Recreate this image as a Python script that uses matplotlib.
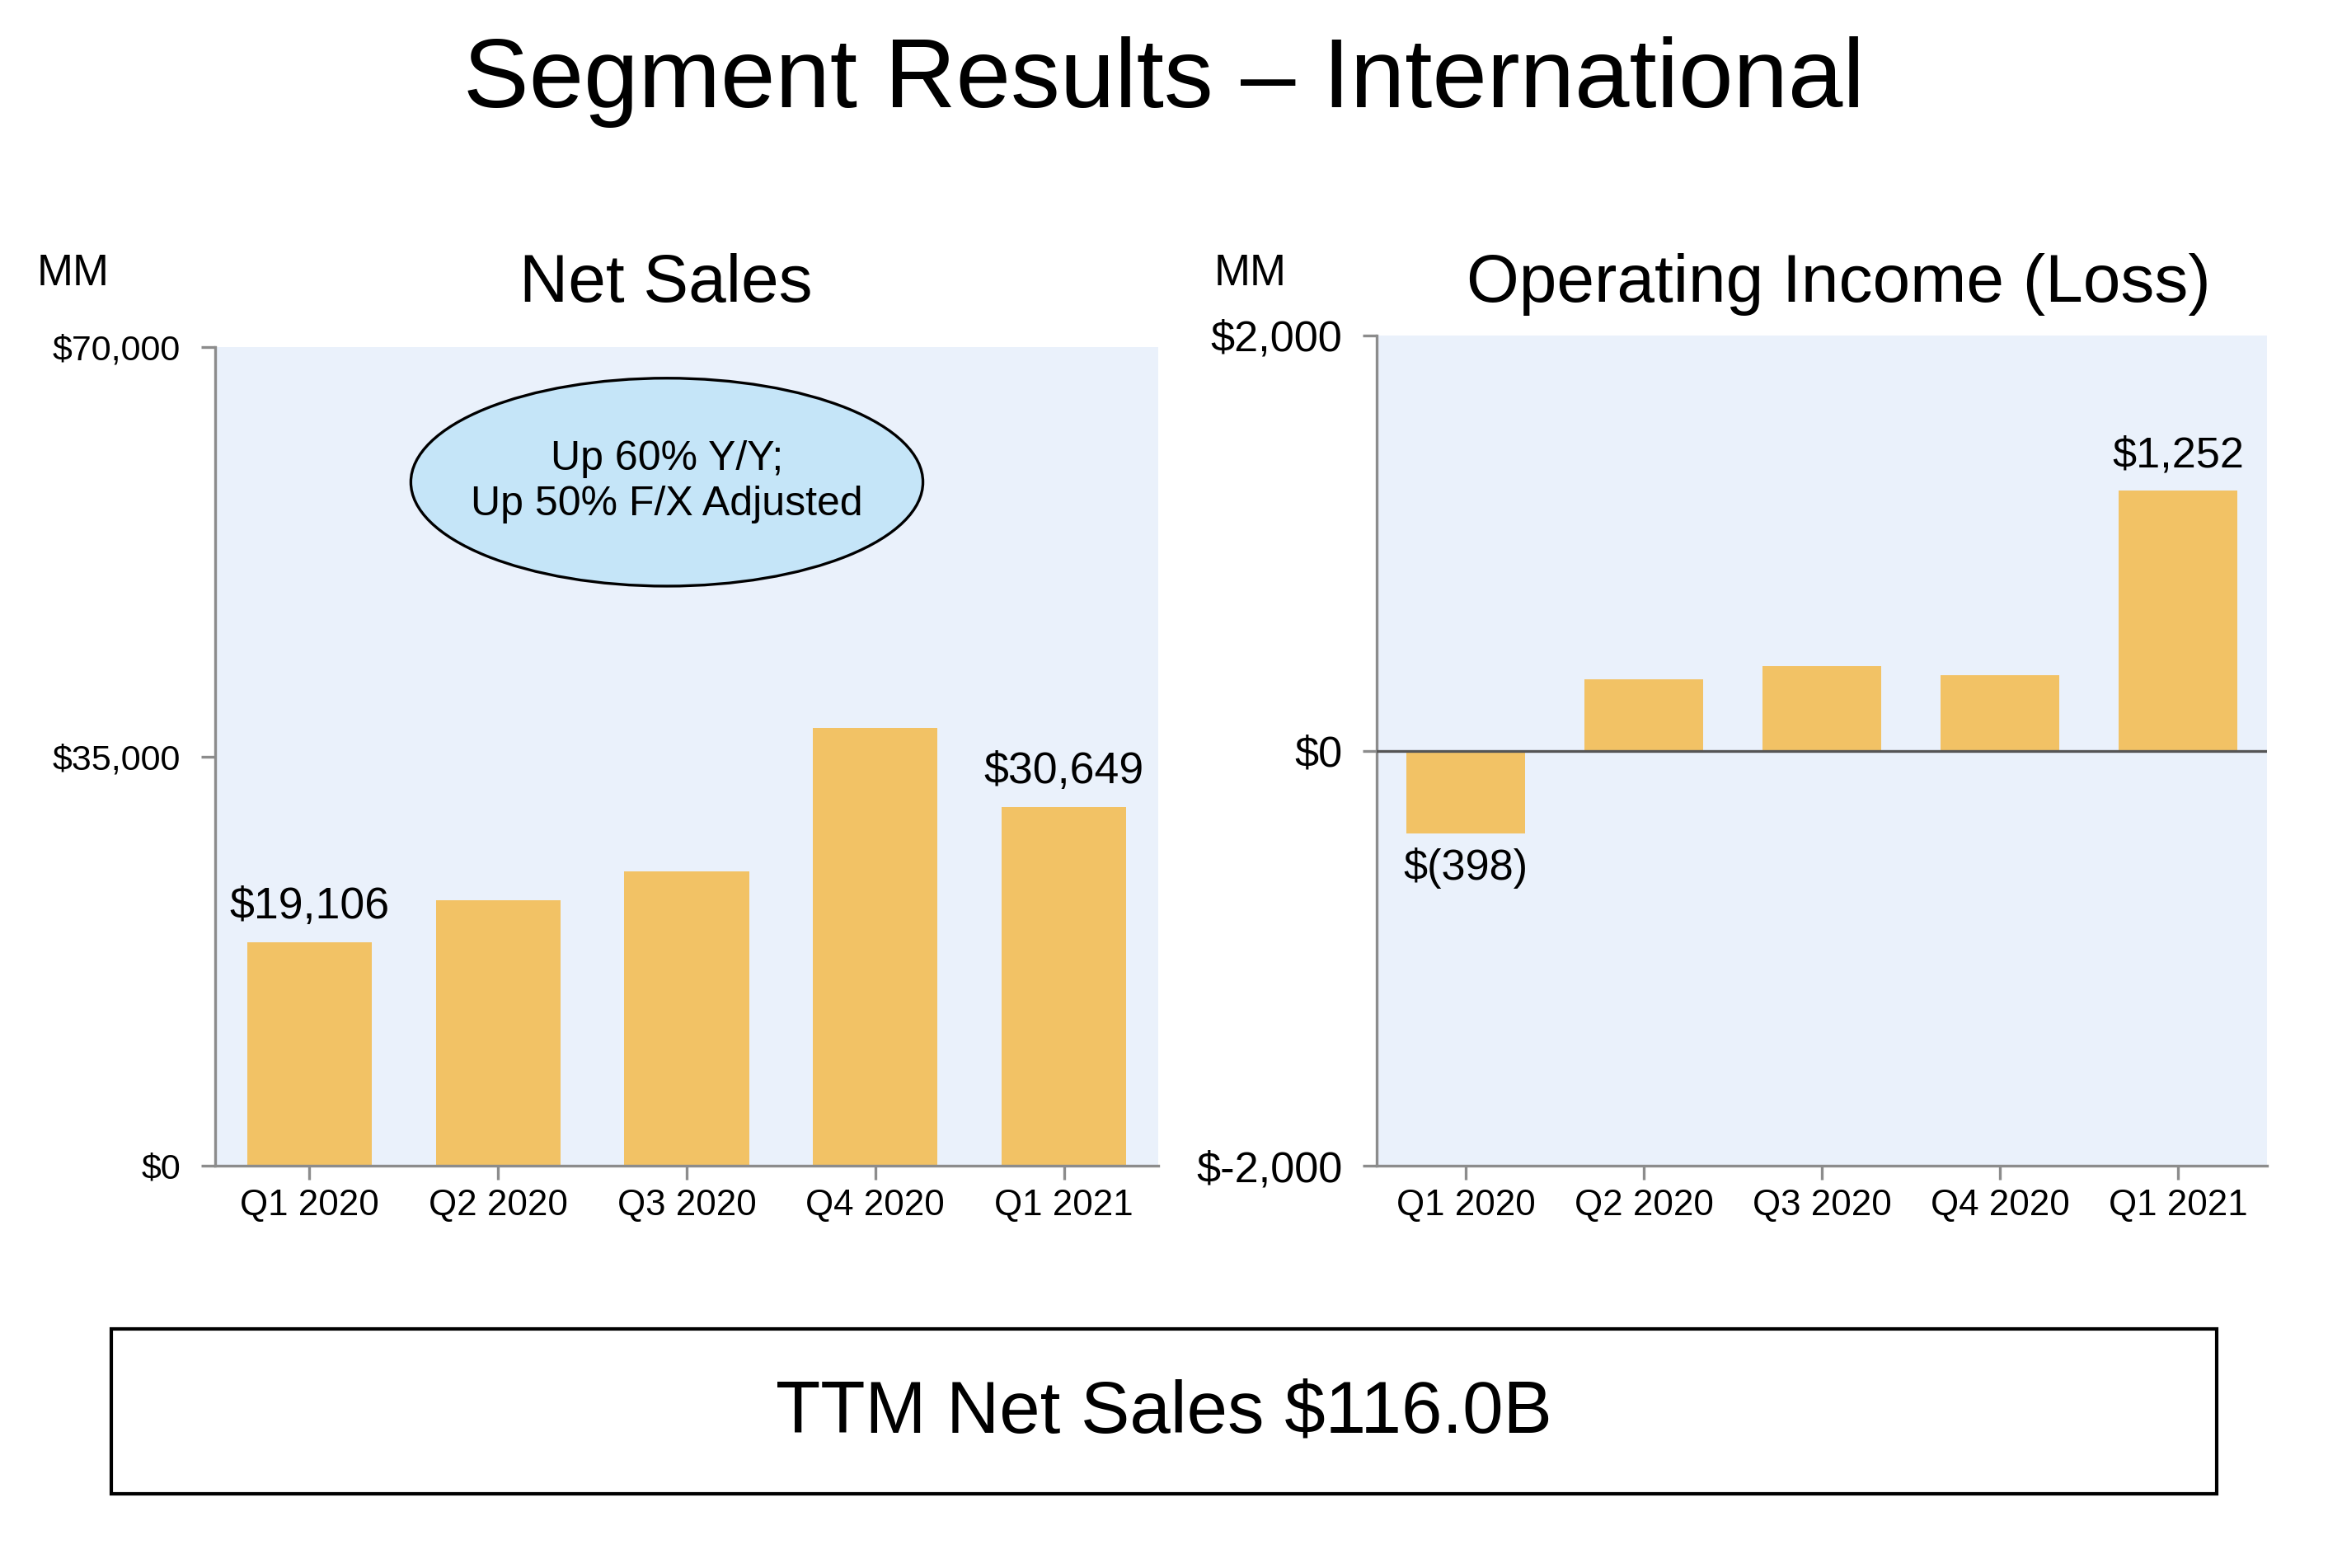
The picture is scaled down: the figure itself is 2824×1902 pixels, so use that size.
import matplotlib
matplotlib.use("Agg")
import matplotlib.pyplot as plt
from matplotlib.patches import Ellipse, Rectangle

plt.rcParams['font.family'] = ['Liberation Sans', 'DejaVu Sans']

quarters = ["Q1 2020", "Q2 2020", "Q3 2020", "Q4 2020", "Q1 2021"]
net_sales = [19106, 22668, 25174, 37467, 30649]
op_income = [-398, 345, 407, 363, 1252]
ns_ticks = [0, 35000, 70000]
ns_ticklabels = ["$0", "$35,000", "$70,000"]
oi_ticks = [-2000, 0, 2000]
oi_ticklabels = ["$-2,000", "$0", "$2,000"]
ns_labels = {0: "$19,106", 4: "$30,649"}
oi_labels = {0: "$(398)", 4: "$1,252"}

BAR = "#F2C265"
BG = "#EAF1FB"
SPINE = "#8C8C8C"

W, H = 2824, 1902
fig = plt.figure(figsize=(W / 200, H / 200), dpi=200)

fig.text(0.5, 1 - 130 / H, "Segment Results \u2013 International", ha="center", va="baseline", fontsize=43)

def style(ax, ytick_size):
    ax.set_facecolor(BG)
    for s in ["top", "right"]:
        ax.spines[s].set_visible(False)
    for s in ["left", "bottom"]:
        ax.spines[s].set_color(SPINE)
        ax.spines[s].set_linewidth(1.2)
    ax.tick_params(axis="both", colors=SPINE, length=6, width=1.2, labelcolor="black")
    ax.tick_params(axis="y", pad=9, labelsize=ytick_size)
    ax.tick_params(axis="x", pad=4, labelsize=15.8)
    ax.set_xlim(-0.5, 4.5)
    ax.set_xticks(range(len(quarters)))
    ax.set_xticklabels(quarters)

# Left: Net Sales
ax1 = fig.add_axes([261 / W, 1 - 1414 / H, 1144 / W, 993 / H])
style(ax1, 15.5)
x = list(range(len(quarters)))
ax1.bar(x, net_sales, width=0.66, color=BAR, zorder=2)
ax1.set_ylim(0, 70000)
ax1.set_yticks(ns_ticks)
ax1.set_yticklabels(ns_ticklabels)
for i, lab in ns_labels.items():
    ax1.text(i, net_sales[i] + 1300, lab, ha="center", va="bottom", fontsize=19.3)
ell = Ellipse((0.479, 0.835), 0.543, 0.254, transform=ax1.transAxes,
              facecolor="#C5E5F8", edgecolor="black", linewidth=1.2, zorder=3)
ax1.add_patch(ell)
ax1.text(0.479, 0.835, "Up 60% Y/Y;\nUp 50% F/X Adjusted", transform=ax1.transAxes,
         ha="center", va="center", fontsize=18, linespacing=1.25, zorder=4)

fig.text(45 / W, 1 - 346 / H, "MM", ha="left", va="baseline", fontsize=19)
fig.text(808 / W, 1 - 366 / H, "Net Sales", ha="center", va="baseline", fontsize=29.5)

# Right: Operating Income
ax2 = fig.add_axes([1670 / W, 1 - 1414 / H, 1080 / W, 1007 / H])
style(ax2, 18.8)
ax2.bar(x, op_income, width=0.667, color=BAR, zorder=2)
ax2.axhline(0, color="#555555", linewidth=1.2, zorder=3)
ax2.set_ylim(-2000, 2000)
ax2.set_yticks(oi_ticks)
ax2.set_yticklabels(oi_ticklabels)
for i, lab in oi_labels.items():
    v = op_income[i]
    if v >= 0:
        ax2.text(i, v + 70, lab, ha="center", va="bottom", fontsize=18.8)
    else:
        ax2.text(i, v - 70, lab, ha="center", va="top", fontsize=18.8)

fig.text(1473 / W, 1 - 346 / H, "MM", ha="left", va="baseline", fontsize=19)
fig.text(2230 / W, 1 - 366 / H, "Operating Income (Loss)", ha="center", va="baseline", fontsize=29.5)

# Bottom box
box = Rectangle((135 / W, 1 - 1812 / H), (2689 - 135) / W, 200 / H, transform=fig.transFigure,
                facecolor="white", edgecolor="black", linewidth=1.5)
fig.patches.append(box)
fig.text(0.5, 1 - 1738 / H, "TTM Net Sales $116.0B", ha="center", va="baseline", fontsize=32)

fig.savefig("out.png", dpi=200)
